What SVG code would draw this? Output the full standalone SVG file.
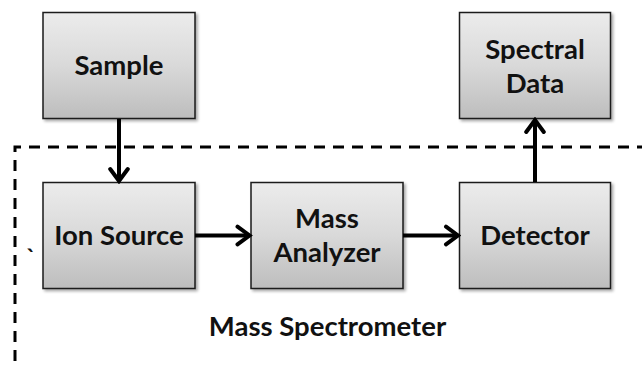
<svg xmlns="http://www.w3.org/2000/svg" width="642" height="367" viewBox="0 0 642 367">
<defs>
  <linearGradient id="g" x1="0" y1="0" x2="0" y2="1">
    <stop offset="0" stop-color="#ececec"/>
    <stop offset="0.5" stop-color="#d9d9d9"/>
    <stop offset="1" stop-color="#bdbdbd"/>
  </linearGradient>
  <filter id="sh" x="-10%" y="-10%" width="130%" height="130%">
    <feGaussianBlur in="SourceAlpha" stdDeviation="1.5"/>
    <feOffset dx="2" dy="2" result="b"/>
    <feComponentTransfer><feFuncA type="linear" slope="0.35"/></feComponentTransfer>
    <feMerge><feMergeNode/><feMergeNode in="SourceGraphic"/></feMerge>
  </filter>
  <marker id="ah" markerWidth="5" markerHeight="6" refX="4.2" refY="3" orient="auto" markerUnits="strokeWidth">
    <path d="M1.2,0.8 L4.2,3 L1.2,5.2" fill="none" stroke="#000" stroke-width="1" stroke-linecap="round" stroke-linejoin="miter"/>
  </marker>
</defs>
<style>
  .box { fill: url(#g); stroke: #1a1a1a; stroke-width: 1.5; filter: url(#sh); }
  .t { font-family: Lato, "Open Sans", sans-serif; font-weight: bold; font-size: 27.5px; fill: #111; text-anchor: middle; }
  .c { stroke: #000; stroke-width: 4; fill: none; marker-end: url(#ah); }
  .d { stroke: #000; stroke-width: 3; fill: none; stroke-dasharray: 11 8; }
</style>
<rect width="642" height="367" fill="#fff"/>
<g id="container">
  <path class="d" d="M15,380 L15,147 L650,147"/>
  <text class="t" x="327.5" y="336">Mass Spectrometer</text>
  <text x="31" y="267" style="font-family: Lato, sans-serif; font-size: 24px; font-weight: bold; fill:#111" text-anchor="middle">`</text>
</g>
<g id="sample">
  <rect class="box" x="43" y="12.5" width="152" height="106"/>
  <text class="t" x="119" y="75">Sample</text>
</g>
<g id="spectral-data">
  <rect class="box" x="459.5" y="12.5" width="151" height="106"/>
  <text class="t" x="535" y="59">Spectral</text>
  <text class="t" x="535" y="92.5">Data</text>
</g>
<g id="ion-source">
  <rect class="box" x="43" y="182.5" width="152" height="106"/>
  <text class="t" x="119" y="245">Ion Source</text>
</g>
<g id="mass-analyzer">
  <rect class="box" x="251" y="182.5" width="152" height="106"/>
  <text class="t" x="327" y="228">Mass</text>
  <text class="t" x="327" y="261.5">Analyzer</text>
</g>
<g id="detector">
  <rect class="box" x="459.5" y="182.5" width="151" height="106"/>
  <text class="t" x="535" y="245">Detector</text>
</g>
<g id="connectors">
  <path class="c" d="M119,119 L119,181"/>
  <path class="c" d="M195,235.5 L249.5,235.5"/>
  <path class="c" d="M403,235.5 L458,235.5"/>
  <path class="c" d="M535,182 L535,120"/>
</g>
</svg>
